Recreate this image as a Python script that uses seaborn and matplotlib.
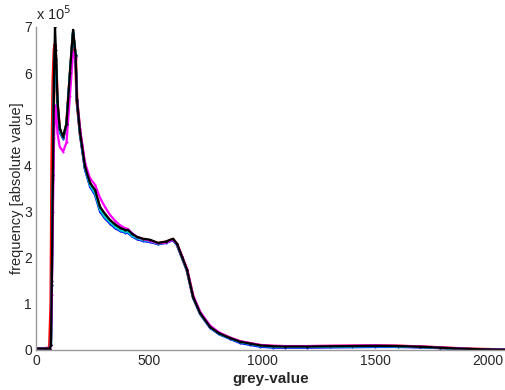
import pandas as pd
import matplotlib
matplotlib.use('Agg')
import matplotlib.pyplot as plt
import seaborn as sns

# grey-value positions and histogram frequencies (in units of 1e5)
grey = [0, 40, 60, 66, 70, 75, 80, 84, 88, 95, 105, 120, 135, 150, 164, 175, 181,
        195, 217, 239, 261, 283, 305, 327, 350, 372, 395, 407, 425, 447, 475, 504,
        540, 575, 606, 624, 646, 668, 695, 726, 770, 810, 858, 903, 947, 991, 1050,
        1100, 1200, 1300, 1400, 1500, 1600, 1700, 1788, 1850, 1934, 2000, 2075]

red = [0.03, 0.03, 0.05, 1.0, 4.0, 5.8, 6.5, 6.62, 6.3, 5.3, 4.75, 4.6, 4.88, 5.9, 6.85,
       6.35, 5.4, 4.7, 3.95, 3.6, 3.42, 3.08, 2.93, 2.8, 2.7, 2.63, 2.58, 2.58, 2.5,
       2.43, 2.39, 2.37, 2.31, 2.34, 2.4, 2.29, 2.01, 1.73, 1.15, 0.8, 0.5, 0.36,
       0.26, 0.18, 0.14, 0.1, 0.08, 0.075, 0.075, 0.08, 0.085, 0.09, 0.085, 0.07,
       0.05, 0.035, 0.02, 0.012, 0.005]
green = [0.03, 0.03, 0.03, 0.1, 1.4, 3.7, 5.9, 6.5, 6.3, 5.3, 4.75, 4.62, 4.9, 6.0, 6.9,
         6.4, 5.42, 4.7, 3.96, 3.6, 3.44, 3.08, 2.92, 2.8, 2.7, 2.63, 2.58, 2.58, 2.5,
         2.43, 2.39, 2.37, 2.31, 2.34, 2.4, 2.29, 2.01, 1.73, 1.15, 0.8, 0.5, 0.36,
         0.26, 0.18, 0.14, 0.1, 0.08, 0.075, 0.075, 0.08, 0.085, 0.09, 0.085, 0.07,
         0.05, 0.035, 0.02, 0.012, 0.005]
blue = [0.03, 0.03, 0.03, 0.1, 1.4, 3.7, 5.9, 6.5, 6.3, 5.3, 4.72, 4.58, 4.88, 5.95, 6.88,
        6.38, 5.38, 4.66, 3.9, 3.54, 3.36, 3.0, 2.85, 2.74, 2.64, 2.58, 2.54, 2.54, 2.46,
        2.4, 2.36, 2.34, 2.29, 2.32, 2.38, 2.27, 2.0, 1.72, 1.13, 0.78, 0.48, 0.34,
        0.24, 0.15, 0.11, 0.07, 0.05, 0.05, 0.05, 0.055, 0.06, 0.065, 0.065, 0.055,
        0.04, 0.03, 0.018, 0.01, 0.004]
cyan = [0.03, 0.03, 0.03, 0.1, 1.4, 3.7, 5.9, 6.5, 6.3, 5.3, 4.74, 4.6, 4.9, 5.98, 6.9,
        6.4, 5.4, 4.68, 3.93, 3.57, 3.4, 3.04, 2.88, 2.77, 2.67, 2.6, 2.56, 2.56, 2.48,
        2.42, 2.38, 2.36, 2.3, 2.33, 2.39, 2.28, 2.0, 1.72, 1.14, 0.79, 0.49, 0.35,
        0.25, 0.17, 0.13, 0.09, 0.07, 0.065, 0.065, 0.07, 0.075, 0.08, 0.075, 0.06,
        0.045, 0.03, 0.018, 0.01, 0.004]
magenta = [0.03, 0.03, 0.03, 0.1, 1.2, 3.0, 4.6, 5.3, 5.2, 4.7, 4.4, 4.3, 4.5, 5.5, 6.45,
           6.3, 5.45, 4.78, 4.05, 3.72, 3.58, 3.3, 3.1, 2.93, 2.8, 2.7, 2.64, 2.62, 2.53,
           2.45, 2.4, 2.37, 2.31, 2.33, 2.39, 2.3, 2.03, 1.76, 1.18, 0.83, 0.53, 0.38,
           0.27, 0.19, 0.15, 0.11, 0.09, 0.085, 0.085, 0.09, 0.095, 0.1, 0.09, 0.075,
           0.055, 0.04, 0.022, 0.014, 0.006]
black = [0.03, 0.03, 0.03, 0.1, 1.5, 3.8, 6.0, 7.0, 6.5, 5.4, 4.8, 4.62, 4.9, 6.0, 6.94,
         6.4, 5.42, 4.71, 3.97, 3.62, 3.47, 3.1, 2.95, 2.82, 2.72, 2.65, 2.6, 2.6, 2.52,
         2.45, 2.41, 2.39, 2.32, 2.35, 2.41, 2.3, 2.02, 1.74, 1.15, 0.8, 0.5, 0.36,
         0.26, 0.18, 0.14, 0.1, 0.08, 0.075, 0.075, 0.08, 0.085, 0.09, 0.085, 0.07,
         0.05, 0.035, 0.02, 0.012, 0.005]

series = {'green': green, 'blue': blue, 'cyan': cyan,
          'magenta': magenta, 'black': black, 'red': red}
colors = {'red': '#ff0000', 'green': '#00cc00', 'blue': '#0000ff',
          'cyan': '#00cccc', 'magenta': '#ff00ff', 'black': '#000000'}

frames = []
for name, vals in series.items():
    frames.append(pd.DataFrame({'grey': grey, 'freq': [v * 1e5 for v in vals], 'run': name}))
df = pd.concat(frames, ignore_index=True)

sns.set_style('white')
plt.rcParams['font.family'] = ['Liberation Sans', 'DejaVu Sans']

fig = plt.figure(figsize=(5.05, 3.9), dpi=100)
ax = fig.add_axes([0.0713, 0.1026, 0.9287, 0.8282])

# red drawn first underneath, black on top
order = ['red', 'green', 'blue', 'cyan', 'magenta', 'black']
for name in order:
    sub = df[df['run'] == name]
    sns.lineplot(data=sub, x='grey', y='freq', color=colors[name], ax=ax,
                 linewidth=2.2 if name == 'red' else 1.6, marker='.', markersize=3,
                 markeredgewidth=0, sort=False, estimator=None)

ax.set_xlim(0, 2075)
ax.set_ylim(0, 7e5)
ax.set_xticks([0, 500, 1000, 1500, 2000])
ax.set_yticks([i * 1e5 for i in range(8)])
ax.set_yticklabels([str(i) for i in range(8)])
ax.tick_params(direction='in', length=4, color='#888888', labelsize=10, pad=3)
for s in ['top', 'right']:
    ax.spines[s].set_visible(False)
for s in ['left', 'bottom']:
    ax.spines[s].set_color('#999999')
    ax.spines[s].set_linewidth(1)

ax.set_xlabel('grey-value', fontsize=11, fontweight='bold', labelpad=3)
ax.set_ylabel('frequency [absolute value]', fontsize=10.5, labelpad=0)
fig.text(0.071, 0.94, r'x 10$^5$', fontsize=10.5, ha='left', va='bottom')

fig.savefig('out.png', dpi=100)
